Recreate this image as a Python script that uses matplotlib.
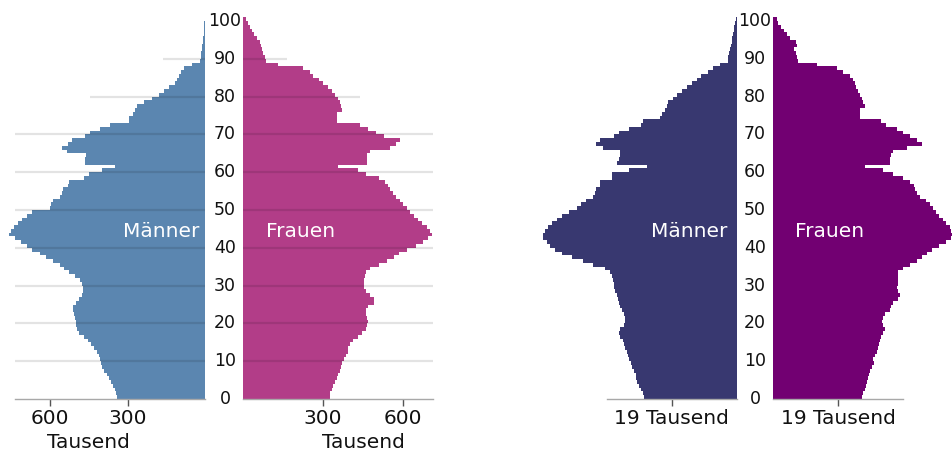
import numpy as np
import matplotlib
matplotlib.use("Agg")
import matplotlib.pyplot as plt
from matplotlib.transforms import blended_transform_factory

plt.rcParams['font.family'] = ['DejaVu Sans']

ages = np.arange(0, 101)

# Left pyramid (thousands)
men_left = [342, 345, 350, 357, 365, 372, 380, 390, 398, 404,
            406, 410, 418, 430, 440, 452, 470, 488, 495, 498,
            500, 505, 508, 512, 510, 500, 488, 478, 474, 472,
            475, 485, 505, 525, 545, 560, 590, 615, 640, 668,
            690, 712, 735, 759, 750, 740, 725, 710, 690, 670,
            600, 595, 590, 560, 555, 550, 532, 525, 470, 450,
            400, 348, 465, 465, 462, 534, 555, 530, 515, 465,
            445, 405, 368, 294, 294, 279, 270, 263, 235, 205,
            180, 160, 140, 116, 108, 100, 92, 80, 50, 19,
            17, 15, 13, 11, 9, 7, 5, 4, 3, 2, 1]
women_left = [325, 328, 332, 336, 345, 352, 358, 363, 368, 372,
              380, 388, 392, 395, 403, 412, 430, 448, 460, 465,
              470, 465, 460, 462, 470, 490, 492, 475, 462, 455,
              452, 455, 458, 462, 476, 510, 540, 565, 585, 615,
              650, 675, 695, 709, 700, 690, 670, 655, 640, 625,
              615, 600, 590, 575, 562, 551, 545, 532, 510, 460,
              430, 358, 465, 465, 465, 475, 551, 575, 589, 530,
              500, 470, 439, 352, 352, 352, 371, 368, 364, 358,
              345, 335, 320, 300, 285, 262, 250, 225, 130, 88,
              82, 75, 70, 66, 62, 52, 42, 33, 25, 18, 10]

# Right pyramid (thousands)
men_right = [27.0, 27.5, 28.0, 28.5, 29.0, 29.3, 29.5, 30.0, 30.5, 31.0,
             31.5, 31.8, 32.0, 32.5, 33.0, 33.2, 34.0, 34.5, 34.0, 33.0,
             32.5, 32.5, 33.0, 33.5, 34.0, 34.5, 34.8, 35.0, 35.5, 35.8,
             36.0, 36.2, 36.5, 37.0, 38.5, 42.0, 45.0, 48.0, 51.0, 53.0,
             54.5, 55.5, 56.5, 56.6, 56.0, 55.0, 54.0, 52.5, 51.0, 49.0,
             46.7, 45.5, 44.0, 42.0, 41.5, 41.0, 40.0, 40.0, 36.5, 36.5,
             31.5, 26.2, 35.0, 34.5, 34.1, 34.0, 39.0, 41.0, 40.0, 36.0,
             34.5, 31.5, 28.0, 27.5, 22.4, 21.8, 21.0, 20.5, 20.0, 18.6,
             17.5, 16.0, 14.5, 13.0, 11.5, 10.5, 8.5, 7.0, 5.0, 2.6,
             2.4, 2.2, 2.0, 1.8, 1.5, 1.3, 1.1, 0.9, 0.7, 0.5, 0.3]
women_right = [26.0, 26.3, 26.8, 27.0, 27.5, 27.8, 28.0, 28.3, 28.8, 29.5,
               29.0, 29.8, 30.3, 30.5, 30.8, 31.2, 31.6, 32.0, 32.6, 32.0,
               31.8, 32.1, 32.5, 34.1, 34.5, 35.0, 36.5, 37.0, 36.3, 36.2,
               36.3, 36.5, 36.3, 36.5, 37.9, 40.0, 42.0, 43.5, 45.0, 46.5,
               48.5, 50.5, 52.0, 52.5, 52.0, 51.5, 50.5, 49.5, 48.5, 47.5,
               46.7, 45.8, 44.5, 43.0, 42.0, 41.4, 41.0, 40.0, 38.0, 35.0,
               32.0, 26.8, 34.1, 34.1, 34.5, 35.0, 39.0, 43.4, 42.0, 40.0,
               38.0, 36.0, 33.0, 31.5, 25.3, 25.3, 25.3, 26.8, 26.3, 25.9,
               25.3, 24.8, 24.3, 23.8, 23.3, 22.4, 20.5, 18.6, 12.8, 7.3,
               7.0, 6.5, 6.0, 7.0, 6.5, 5.0, 4.0, 3.0, 2.2, 1.5, 1.0]

age_ticks = list(range(0, 101, 10))
left_ticks = [300, 600]
right_ticks = [19]
left_axis_extent = (735, 712)
right_axis_extent = 38
grid_ages = [10, 20, 30, 40, 50, 60, 70, 80, 90]
grid_men = [735, 735, 735, 735, 735, 735, 735, 445, 163]
grid_women = [712, 712, 712, 712, 712, 712, 712, 440, 165]

C_ML = '#5b86b0'
C_WL = '#b23d88'
C_MR = '#383870'
C_WR = '#720072'

W, H = 953, 457
fig = plt.figure(figsize=(W / 100, H / 100), dpi=100)

PX_YR = 3.78
Y0 = 399
YTOP = 101.5


def add_ax(x0, x1):
    return fig.add_axes([x0 / W, (H - Y0) / H, (x1 - x0) / W, YTOP * PX_YR / H])


def style(ax, lo, hi, ticks, labels, bound):
    ax.set_ylim(0, YTOP)
    ax.set_xlim(lo, hi)
    for s in ['top', 'left', 'right']:
        ax.spines[s].set_visible(False)
    ax.spines['bottom'].set_color('#a8a8a8')
    ax.spines['bottom'].set_linewidth(1.0)
    ax.spines['bottom'].set_bounds(0, bound)
    ax.set_yticks([])
    ax.set_xticks(ticks)
    ax.set_xticklabels(labels, fontsize=14.5)
    ax.tick_params(axis='x', length=5, width=1, color='#555555', pad=2, labelcolor='#111111')
    ax.patch.set_alpha(0)


edges = np.arange(0, 102)

# Left pyramid
ax_ml = add_ax(5, 205)
ax_ml.stairs(men_left, edges, orientation='horizontal', fill=True, color=C_ML, lw=0)
style(ax_ml, 774.2, 0, left_ticks, [str(t) for t in left_ticks], left_axis_extent[0])
ax_ml.hlines(grid_ages, 0, grid_men, color='black', alpha=0.11, lw=1.6, zorder=3)

ax_wl = add_ax(243, 443)
ax_wl.stairs(women_left, edges, orientation='horizontal', fill=True, color=C_WL, lw=0)
style(ax_wl, 0, 750, left_ticks, [str(t) for t in left_ticks], left_axis_extent[1])
ax_wl.hlines(grid_ages, 0, grid_women, color='black', alpha=0.11, lw=1.6, zorder=3)

# Right pyramid
ax_mr = add_ax(530, 736.7)
ax_mr.stairs(men_right, edges, orientation='horizontal', fill=True, color=C_MR, lw=0)
style(ax_mr, 60.4, 0, right_ticks, [f'{t} Tausend' for t in right_ticks], right_axis_extent)

ax_wr = add_ax(773.3, 953)
ax_wr.stairs(women_right, edges, orientation='horizontal', fill=True, color=C_WR, lw=0)
style(ax_wr, 0, 52.5, right_ticks, [f'{t} Tausend' for t in right_ticks], right_axis_extent)

# Age labels in the gaps
for cx in (225, 755):
    tr = blended_transform_factory(fig.transFigure, ax_ml.transData)
    for a in age_ticks:
        fig.text(cx / W, a, str(a), transform=tr, ha='center', va='center',
                 fontsize=12.5, color='#111111')

# "Tausend" under left axes
tr_ml = blended_transform_factory(ax_ml.transData, fig.transFigure)
fig.text(450, 1 - 442 / H, 'Tausend', transform=tr_ml, ha='center', va='center',
         fontsize=14.5, color='#111111')
tr_wl = blended_transform_factory(ax_wl.transData, fig.transFigure)
fig.text(450, 1 - 442 / H, 'Tausend', transform=tr_wl, ha='center', va='center',
         fontsize=14.5, color='#111111')

# Series labels inside bars
ax_ml.text(20, 42.9, 'Männer', ha='right', va='baseline', color='white', fontsize=14.5)
ax_wl.text(85, 42.9, 'Frauen', ha='left', va='baseline', color='white', fontsize=14.5)
ax_mr.text(2.6, 42.9, 'Männer', ha='right', va='baseline', color='white', fontsize=14.5)
ax_wr.text(6.4, 42.9, 'Frauen', ha='left', va='baseline', color='white', fontsize=14.5)

fig.savefig('out.png', dpi=100)
